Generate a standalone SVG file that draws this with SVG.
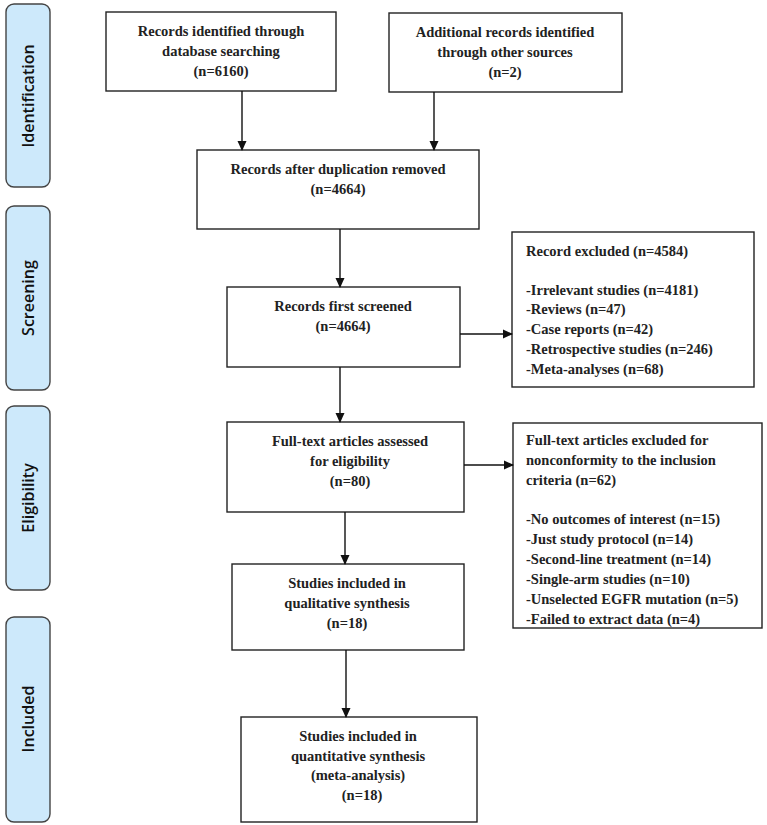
<svg xmlns="http://www.w3.org/2000/svg" width="767" height="825" viewBox="0 0 767 825">
<defs>
<marker id="ah" markerWidth="10" markerHeight="10" refX="9" refY="5" orient="auto" markerUnits="userSpaceOnUse">
<path d="M0,0.5 L10,5 L0,9.5 Z" fill="#111"/>
</marker>
</defs>
<style>
.box{fill:#fff;stroke:#222;stroke-width:1.4}
.stage{fill:#cde9fb;stroke:#444;stroke-width:1.4}
.st{font-family:"Open Sans",sans-serif;font-size:16px;font-weight:600;fill:#111;text-anchor:middle}
.t{font-family:"Liberation Serif",serif;font-size:14.5px;font-weight:bold;fill:#222;text-anchor:middle}
.tl{font-family:"Liberation Serif",serif;font-size:14.5px;font-weight:bold;fill:#222}
.c{stroke:#111;stroke-width:1.4;fill:none;marker-end:url(#ah)}
</style>
<rect width="767" height="825" fill="#fff"/>
<g id="stage-identification"><rect class="stage" x="6" y="4" width="44" height="183" rx="8"/><text class="st" transform="translate(34,96) rotate(-90)">Identification</text></g>
<g id="stage-screening"><rect class="stage" x="6" y="206" width="44" height="184" rx="8"/><text class="st" transform="translate(34,298) rotate(-90)">Screening</text></g>
<g id="stage-eligibility"><rect class="stage" x="6" y="406" width="44" height="184" rx="8"/><text class="st" transform="translate(34,498) rotate(-90)">Eligibility</text></g>
<g id="stage-included"><rect class="stage" x="6" y="617" width="44" height="205" rx="8"/><text class="st" transform="translate(34,719) rotate(-90)">Included</text></g>

<g id="n-db"><rect class="box" x="106" y="12" width="230" height="79"/>
<text class="t" x="221" y="36">Records identified through</text>
<text class="t" x="221" y="56">database searching</text>
<text class="t" x="221" y="76">(n=6160)</text></g>
<g id="n-other"><rect class="box" x="389" y="13" width="233" height="79"/>
<text class="t" x="505" y="37">Additional records identified</text>
<text class="t" x="505" y="57">through other sources</text>
<text class="t" x="505" y="77">(n=2)</text></g>
<g id="n-dup"><rect class="box" x="197" y="150" width="282" height="79"/>
<text class="t" x="338" y="174">Records after duplication removed</text>
<text class="t" x="338" y="194">(n=4664)</text></g>
<g id="n-screen"><rect class="box" x="227" y="287" width="233" height="80"/>
<text class="t" x="343" y="311">Records first screened</text>
<text class="t" x="343" y="331">(n=4664)</text></g>
<g id="n-excl1"><rect class="box" x="512" y="232" width="242" height="155"/>
<text class="tl" x="526" y="256">Record excluded (n=4584)</text>
<text class="tl" x="526" y="295">-Irrelevant studies (n=4181)</text>
<text class="tl" x="526" y="314">-Reviews (n=47)</text>
<text class="tl" x="526" y="334">-Case reports (n=42)</text>
<text class="tl" x="526" y="354">-Retrospective studies (n=246)</text>
<text class="tl" x="526" y="374">-Meta-analyses (n=68)</text></g>
<g id="n-full"><rect class="box" x="227" y="422" width="237" height="90"/>
<text class="t" x="350" y="446">Full-text articles assessed</text>
<text class="t" x="350" y="466">for eligibility</text>
<text class="t" x="350" y="486">(n=80)</text></g>
<g id="n-excl2"><rect class="box" x="513" y="423" width="249" height="205"/>
<text class="tl" x="526" y="445">Full-text articles excluded for</text>
<text class="tl" x="526" y="465">nonconformity to the inclusion</text>
<text class="tl" x="526" y="485">criteria (n=62)</text>
<text class="tl" x="526" y="524">-No outcomes of interest (n=15)</text>
<text class="tl" x="526" y="544">-Just study protocol (n=14)</text>
<text class="tl" x="526" y="564">-Second-line treatment (n=14)</text>
<text class="tl" x="526" y="584">-Single-arm studies (n=10)</text>
<text class="tl" x="526" y="604">-Unselected EGFR mutation (n=5)</text>
<text class="tl" x="526" y="624">-Failed to extract data (n=4)</text></g>
<g id="n-qual"><rect class="box" x="232" y="564" width="232" height="86"/>
<text class="t" x="347" y="588">Studies included in</text>
<text class="t" x="347" y="608">qualitative synthesis</text>
<text class="t" x="347" y="628">(n=18)</text></g>
<g id="n-quant"><rect class="box" x="241" y="717" width="236" height="105"/>
<text class="t" x="358" y="741">Studies included in</text>
<text class="t" x="358" y="761">quantitative synthesis</text>
<text class="t" x="358" y="780">(meta-analysis)</text>
<text class="t" x="362" y="800">(n=18)</text></g>
<g id="connectors">
<line class="c" x1="242" y1="91" x2="242" y2="150"/>
<line class="c" x1="434" y1="92" x2="434" y2="150"/>
<line class="c" x1="340" y1="229" x2="340" y2="287"/>
<line class="c" x1="460" y1="334" x2="512" y2="334"/>
<line class="c" x1="340" y1="367" x2="340" y2="422"/>
<line class="c" x1="464" y1="465" x2="513" y2="465"/>
<line class="c" x1="345" y1="512" x2="345" y2="564"/>
<line class="c" x1="346" y1="650" x2="346" y2="717"/>
</g>
</svg>
